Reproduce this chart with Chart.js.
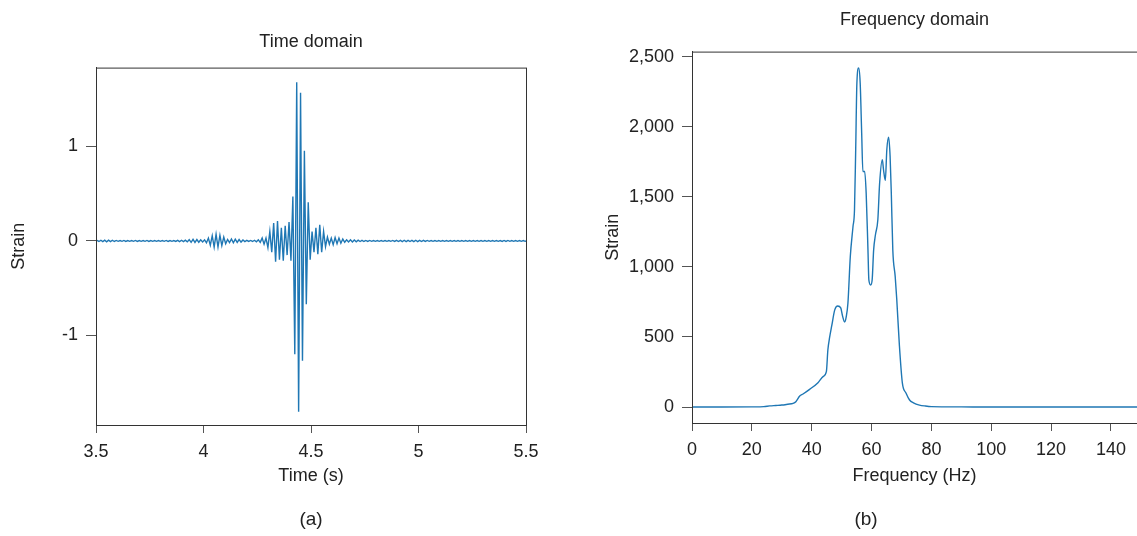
<!DOCTYPE html>
<html>
<head>
<meta charset="utf-8">
<script src="https://cdn.jsdelivr.net/npm/chart.js@4.4.1/dist/chart.umd.min.js"></script>
<style>
  html, body { margin: 0; padding: 0; background: #fff; }
  #wrap { position: relative; width: 1137px; height: 536px; overflow: hidden; }
  canvas { position: absolute; top: 0; }
  .cap { position: absolute; top: 508px; font: 19px "Liberation Sans", sans-serif; color: #222; transform: translateX(-50%); }
</style>
</head>
<body>
<div id="wrap">
  <canvas id="timeChart" width="570" height="536" style="left:0"></canvas>
  <canvas id="freqChart" width="567" height="536" style="left:570px"></canvas>
  <div class="cap" style="left:311px">(a)</div>
  <div class="cap" style="left:866px">(b)</div>
</div>
<script>
// time-domain strain, one value per half cycle (sample start + step in seconds)
const timeStart = 3.4959;
const timeStep = 0.00893;
const strainValues = [
  -0.004, 0.005, -0.006, 0.007, -0.008, 0.008, -0.009, 0.008, -0.008, 0.007,
  -0.006, 0.005, -0.004, 0.004, -0.004, 0.005, -0.005, 0.004, -0.004, 0.004,
  -0.004, 0.005, -0.005, 0.004, -0.004, 0.004, -0.004, 0.005, -0.005, 0.004,
  -0.004, 0.004, -0.004, 0.004, -0.004, 0.004, -0.004, 0.005, -0.005, 0.004,
  -0.004, 0.004, -0.005, 0.006, -0.007, 0.007, -0.007, 0.008, -0.01, 0.013,
  -0.015, 0.016, -0.016, 0.015, -0.014, 0.012, -0.01, 0.012, -0.02, 0.03,
  -0.045, 0.055, -0.065, 0.07, -0.065, 0.06, -0.05, 0.04, -0.03, 0.015,
  -0.018, 0.02, -0.02, 0.018, -0.016, 0.015, -0.012, 0.01, -0.007, 0.006,
  -0.005, 0.005, -0.006, 0.007, -0.009, 0.012, -0.015, 0.03, -0.035, 0.03,
  -0.07, 0.1, -0.12, 0.19, -0.22, 0.21, -0.2, 0.14, -0.21, 0.16,
  -0.15, 0.2, -0.21, 0.47, -1.2, 1.68, -1.81, 1.57, -1.27, 0.955,
  -0.67, 0.41, -0.2, 0.1, -0.12, 0.14, -0.14, 0.17, -0.12, 0.1,
  -0.06, 0.04, -0.035, 0.03, -0.04, 0.035, -0.03, 0.03, -0.025, 0.02,
  -0.014, 0.012, -0.012, 0.011, -0.012, 0.01, -0.009, 0.008, -0.006, 0.006,
  -0.006, 0.005, -0.005, 0.005, -0.004, 0.004, -0.004, 0.004, -0.004, 0.004,
  -0.004, 0.004, -0.004, 0.004, -0.004, 0.005, -0.005, 0.006, -0.006, 0.006,
  -0.007, 0.007, -0.007, 0.006, -0.006, 0.006, -0.007, 0.007, -0.007, 0.006,
  -0.006, 0.006, -0.005, 0.005, -0.004, 0.004, -0.004, 0.004, -0.004, 0.004,
  -0.004, 0.004, -0.004, 0.004, -0.004, 0.004, -0.004, 0.004, -0.004, 0.004,
  -0.004, 0.004, -0.004, 0.004, -0.004, 0.004, -0.004, 0.004, -0.004, 0.004,
  -0.004, 0.004, -0.004, 0.004, -0.004, 0.004, -0.004, 0.004, -0.004, 0.004,
  -0.004, 0.004, -0.005, 0.005, -0.005, 0.005, -0.004, 0.004, -0.004, 0.004,
  -0.004, 0.004, -0.004, 0.004, -0.004, 0.004
];
const timeTicks = [3.5, 4, 4.5, 5, 5.5];
const timeStrainTicks = [-1, 0, 1];

// frequency-domain amplitude
const freqHz = [0, 10, 20, 24, 26, 28, 30, 32, 33.8, 34.7, 36, 37.1, 39.3, 42.1, 43.8, 44.9, 45.4, 46,
  46.7, 47.7, 48.7, 49.7, 50.3, 51, 51.5, 52.1, 52.9, 53.8, 54.3, 54.7, 55.1, 55.7, 56.2, 56.7, 57.1,
  57.7, 58.2, 58.8, 59.1, 59.7, 60.2, 60.7, 61.3, 62.1, 62.7, 63.6, 64, 64.6, 65.1, 65.7, 66.2, 66.6,
  67.1, 67.9, 68.4, 69.3, 70.3, 71.5, 72.7, 74, 76, 78, 80, 90, 100, 150];
const freqStrain = [0, 0, 1, 3, 8, 11, 14, 20, 26, 38, 79, 93, 126, 174, 217, 252, 407, 498,
  580, 693, 721, 707, 650, 607, 640, 740, 1074, 1288, 1407, 1836, 2312, 2419, 2312, 1955, 1681,
  1681, 1526, 1121, 907, 871, 907, 1121, 1229, 1336, 1598, 1764, 1693, 1617, 1836, 1926, 1788, 1526,
  1121, 931, 776, 440, 170, 100, 50, 30, 14, 7, 3, 1, 0, 0];
const freqTicks = [0, 20, 40, 60, 80, 100, 120, 140];
const freqStrainTicks = [0, 500, 1000, 1500, 2000, 2500];

const FONT = '"Liberation Sans", sans-serif';
const FS = 18;
const LINE = '#1f77b4';
const INK = '#222';

const frameBox = {
  id: 'frameBox',
  afterDraw(chart) {
    const a = chart.chartArea, ctx = chart.ctx;
    ctx.save();
    ctx.strokeStyle = '#333';
    ctx.lineWidth = 1;
    ctx.strokeRect(a.left + 0.5, a.top + 0.5, a.right - a.left, a.bottom - a.top);
    ctx.restore();
  }
};

function fixTicks(list) {
  return (scale) => { scale.ticks = list.map(v => ({ value: v })); };
}

function axisX(min, max, list, title, height, fmt) {
  return {
    type: 'linear', min: min, max: max,
    afterBuildTicks: fixTicks(list),
    afterFit: (s) => { s.height = height; },
    grid: { drawOnChartArea: false, tickLength: 8, color: '#555' },
    border: { color: '#333' },
    ticks: { padding: 8, color: INK, font: { family: FONT, size: FS }, maxRotation: 0, autoSkip: false, callback: fmt },
    title: { display: true, text: title, color: INK, font: { family: FONT, size: FS }, padding: { bottom: 49 } }
  };
}

function axisY(min, max, list, width, titleOff, fmt) {
  return {
    type: 'linear', min: min, max: max,
    afterBuildTicks: fixTicks(list),
    afterFit: (s) => { s.width = width; },
    grid: { drawOnChartArea: false, tickLength: 10, color: '#555' },
    border: { color: '#333' },
    ticks: { padding: 8, color: INK, font: { family: FONT, size: FS }, autoSkip: false, callback: fmt },
    title: { display: true, text: 'Strain', color: INK, font: { family: FONT, size: FS }, padding: { top: titleOff } }
  };
}

new Chart(document.getElementById('timeChart'), {
  type: 'line',
  data: {
    datasets: [{
      data: strainValues.map((v, i) => ({ x: timeStart + i * timeStep, y: v })),
      borderColor: LINE, borderWidth: 1.4, pointRadius: 0, tension: 0
    }]
  },
  options: {
    responsive: false, animation: false, devicePixelRatio: 1,
    layout: { padding: { left: 0, right: 44, top: 0, bottom: 0 } },
    plugins: {
      legend: { display: false }, tooltip: { enabled: false },
      title: { display: true, fullSize: false, text: 'Time domain', color: INK, font: { family: FONT, size: FS, weight: 'normal' }, padding: { top: 31, bottom: 15 } }
    },
    scales: {
      x: axisX(3.5, 5.5, timeTicks, 'Time (s)', 111, (v) => String(v)),
      y: axisY(-1.95, 1.836, timeStrainTicks, 96, 8, (v) => String(v))
    }
  },
  plugins: [frameBox]
});

new Chart(document.getElementById('freqChart'), {
  type: 'line',
  data: {
    datasets: [{
      data: freqHz.map((f, i) => ({ x: f, y: freqStrain[i] })),
      borderColor: LINE, borderWidth: 1.4, pointRadius: 0, cubicInterpolationMode: 'monotone'
    }]
  },
  options: {
    responsive: false, animation: false, devicePixelRatio: 1,
    layout: { padding: { left: 0, right: 0, top: 0, bottom: 0 } },
    plugins: {
      legend: { display: false }, tooltip: { enabled: false },
      title: { display: true, fullSize: false, text: 'Frequency domain', color: INK, font: { family: FONT, size: FS, weight: 'normal' }, padding: { top: 9, bottom: 21 } }
    },
    scales: {
      x: axisX(0, 148.7, freqTicks, 'Frequency (Hz)', 113, (v) => String(v)),
      y: axisY(-114, 2536, freqStrainTicks, 122, 32, (v) => v.toLocaleString('en-US'))
    }
  },
  plugins: [frameBox]
});
</script>
</body>
</html>
